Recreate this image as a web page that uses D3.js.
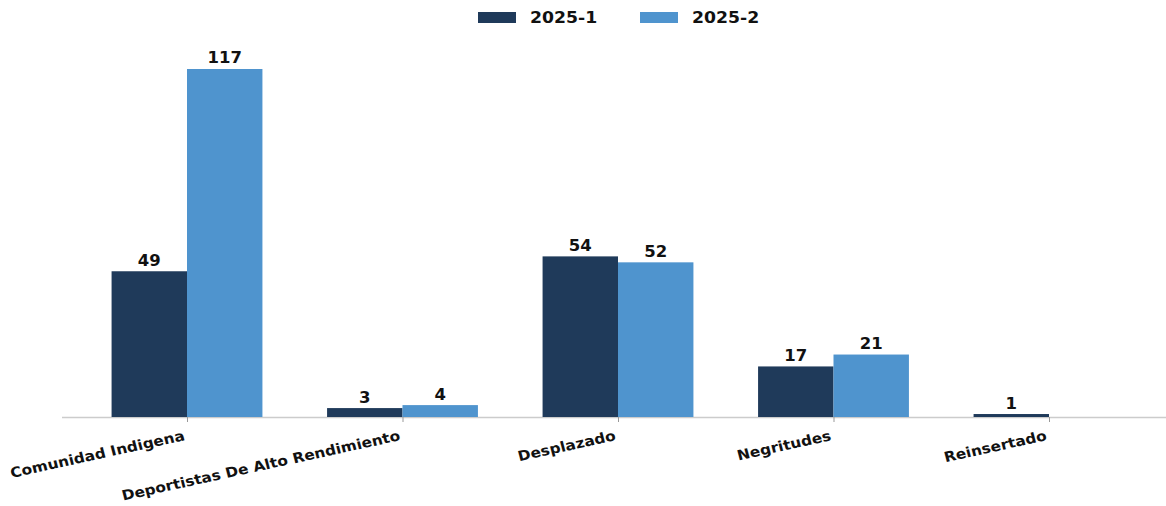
<!DOCTYPE html>
<html><head><meta charset="utf-8">
<script src="https://d3js.org/d3.v7.min.js"></script>
<style>body{margin:0;background:#fff;} text{font-family:"DejaVu Sans",sans-serif;font-weight:bold;}</style>
</head><body><svg id="c" width="1166" height="506"></svg>
<script>
const categories = ["Comunidad Indigena","Deportistas De Alto Rendimiento","Desplazado","Negritudes","Reinsertado"];
const seriesNames = ["2025-1","2025-2"];
const values1 = [49,3,54,17,1];
const values2 = [117,4,52,21,null];
const colors = ["#1f3a5a","#4f94ce"];

const svg = d3.select("#c");
const baseY = 417, topY = 69;
const x = d3.scaleBand().domain(categories).range([79.25,1156.75]).paddingInner(0.3).paddingOuter(0.15);
const xs = d3.scaleBand().domain(seriesNames).range([0,x.bandwidth()]);
const y = d3.scaleLinear().domain([0,117]).range([baseY,topY]);

// axis line
svg.append("line").attr("x1",62).attr("x2",1166).attr("y1",baseY+0.5).attr("y2",baseY+0.5).attr("stroke","#cccccc").attr("stroke-width",1.5);

const ax = svg.append("g").attr("transform",`translate(0,${baseY})`)
  .call(d3.axisBottom(d3.scalePoint().domain(categories).range([x(categories[0])+x.bandwidth()/2, x(categories[4])+x.bandwidth()/2])).tickSize(5).tickSizeOuter(0));
ax.select(".domain").remove();
ax.selectAll(".tick line").attr("stroke","#999");
ax.selectAll(".tick text").attr("font-size",14).attr("fill","#111").attr("text-anchor","end")
  .attr("dy",null).attr("y",0).attr("x",0)
  .attr("transform","translate(-2,23) scale(1.1,1) rotate(-13.5)");

const data = categories.map((c,i)=>({c, vals:[values1[i],values2[i]]}));
const g = svg.append("g");
data.forEach(d=>{
  d.vals.forEach((v,j)=>{
    if(v==null) return;
    const bx = x(d.c)+xs(seriesNames[j]);
    const cx = bx+xs.bandwidth()/2;
    g.append("rect").attr("x",bx).attr("y",y(v)).attr("width",xs.bandwidth()).attr("height",baseY-y(v)).attr("fill",colors[j]);
    g.append("text").attr("x",0).attr("y",y(v)-5.5).attr("text-anchor","middle").attr("font-size",15).attr("fill","#111")
      .attr("transform",`translate(${cx},0) scale(1.1,1)`).text(v);
  });
});

// legend
const leg = svg.append("g");
const lx = [478,640];
seriesNames.forEach((s,j)=>{
  leg.append("rect").attr("x",lx[j]).attr("y",12).attr("width",38).attr("height",11).attr("fill",colors[j]);
  leg.append("text").attr("x",0).attr("y",23).attr("font-size",15).attr("fill","#111")
    .attr("transform",`translate(${lx[j]+52},0) scale(1.15,1)`).text(s);
});
</script></body></html>
